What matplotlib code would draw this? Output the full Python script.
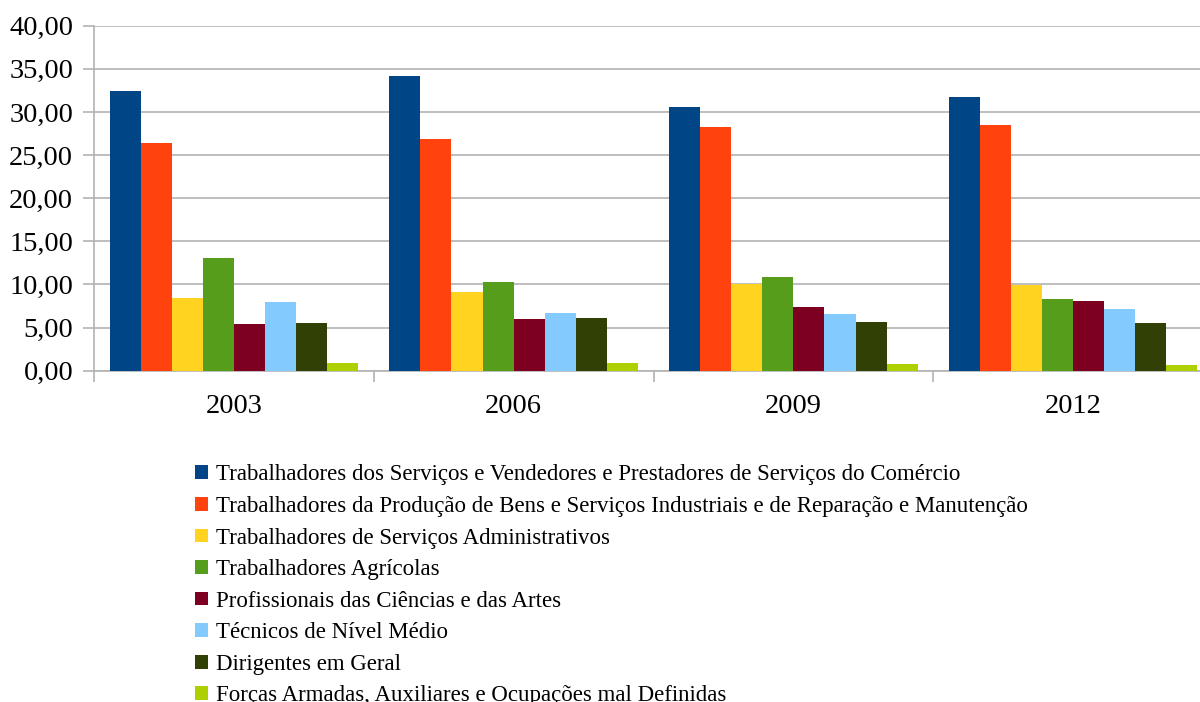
import matplotlib.pyplot as plt
import numpy as np

plt.rcParams['font.family'] = ['Liberation Serif', 'DejaVu Serif']

# Dados
anos = ['2003', '2006', '2009', '2012']
categorias = [
    'Trabalhadores dos Serviços e Vendedores e Prestadores de Serviços do Comércio',
    'Trabalhadores da Produção de Bens e Serviços Industriais e de Reparação e Manutenção',
    'Trabalhadores de Serviços Administrativos',
    'Trabalhadores Agrícolas',
    'Profissionais das Ciências e das Artes',
    'Técnicos de Nível Médio',
    'Dirigentes em Geral',
    'Forças Armadas, Auxiliares e Ocupações mal Definidas',
]
servicos = [32.43, 34.16, 30.57, 31.73]
producao = [26.40, 26.86, 28.25, 28.48]
administrativos = [8.43, 9.12, 10.05, 9.93]
agricolas = [13.06, 10.28, 10.86, 8.31]
profissionais = [5.41, 5.99, 7.38, 8.08]
tecnicos = [7.96, 6.69, 6.57, 7.15]
dirigentes = [5.53, 6.11, 5.64, 5.53]
forcas = [0.89, 0.89, 0.77, 0.66]
series = [servicos, producao, administrativos, agricolas,
          profissionais, tecnicos, dirigentes, forcas]

cores = ['#004586', '#ff420e', '#ffd320', '#579d1c',
         '#7e0021', '#83caff', '#314004', '#aecf00']

fig = plt.figure(figsize=(12, 7.02), dpi=100)
ax = fig.add_axes([94 / 1200, 1 - 370.67 / 702, 1119 / 1200, 345 / 702])

x = np.arange(len(anos))
w = 1 / 9
for i, (vals, cor, nome) in enumerate(zip(series, cores, categorias)):
    ax.bar(x - 0.5 + w * (i + 1), vals, width=w, color=cor, label=nome,
           align='center', zorder=3)

ax.set_xlim(-0.5, len(anos) - 0.5)
ax.set_ylim(0, 40)
ax.set_yticks(np.arange(0, 41, 5))
ax.set_yticklabels([f'{v:.2f}'.replace('.', ',') for v in np.arange(0, 41, 5)],
                   fontsize=20.5)
ax.yaxis.grid(True, color='#b3b3b3', linewidth=1.2, zorder=0)

# ticks do eixo x nas fronteiras das categorias
ax.set_xticks(np.arange(-0.5, len(anos), 1))
ax.set_xticklabels([])
ax.set_xticks(x, minor=True)
ax.set_xticklabels(anos, minor=True, fontsize=20.5)
ax.tick_params(axis='x', which='minor', length=0, pad=17)
ax.tick_params(axis='x', which='major', length=8, color='#b3b3b3', width=1.2)
ax.tick_params(axis='y', length=8, color='#b3b3b3', width=1.2, pad=7)

for s in ['top', 'right']:
    ax.spines[s].set_visible(False)
for s in ['left', 'bottom']:
    ax.spines[s].set_color('#b3b3b3')
    ax.spines[s].set_linewidth(1.2)

fig.legend(loc='upper left', bbox_to_anchor=(184 / 1200, 1 - 453 / 702),
           frameon=False, fontsize=16.5, handlelength=0.55, handleheight=0.55,
           handletextpad=0.35, labelspacing=0.46, borderpad=0)

fig.savefig('out.png', dpi=100)
